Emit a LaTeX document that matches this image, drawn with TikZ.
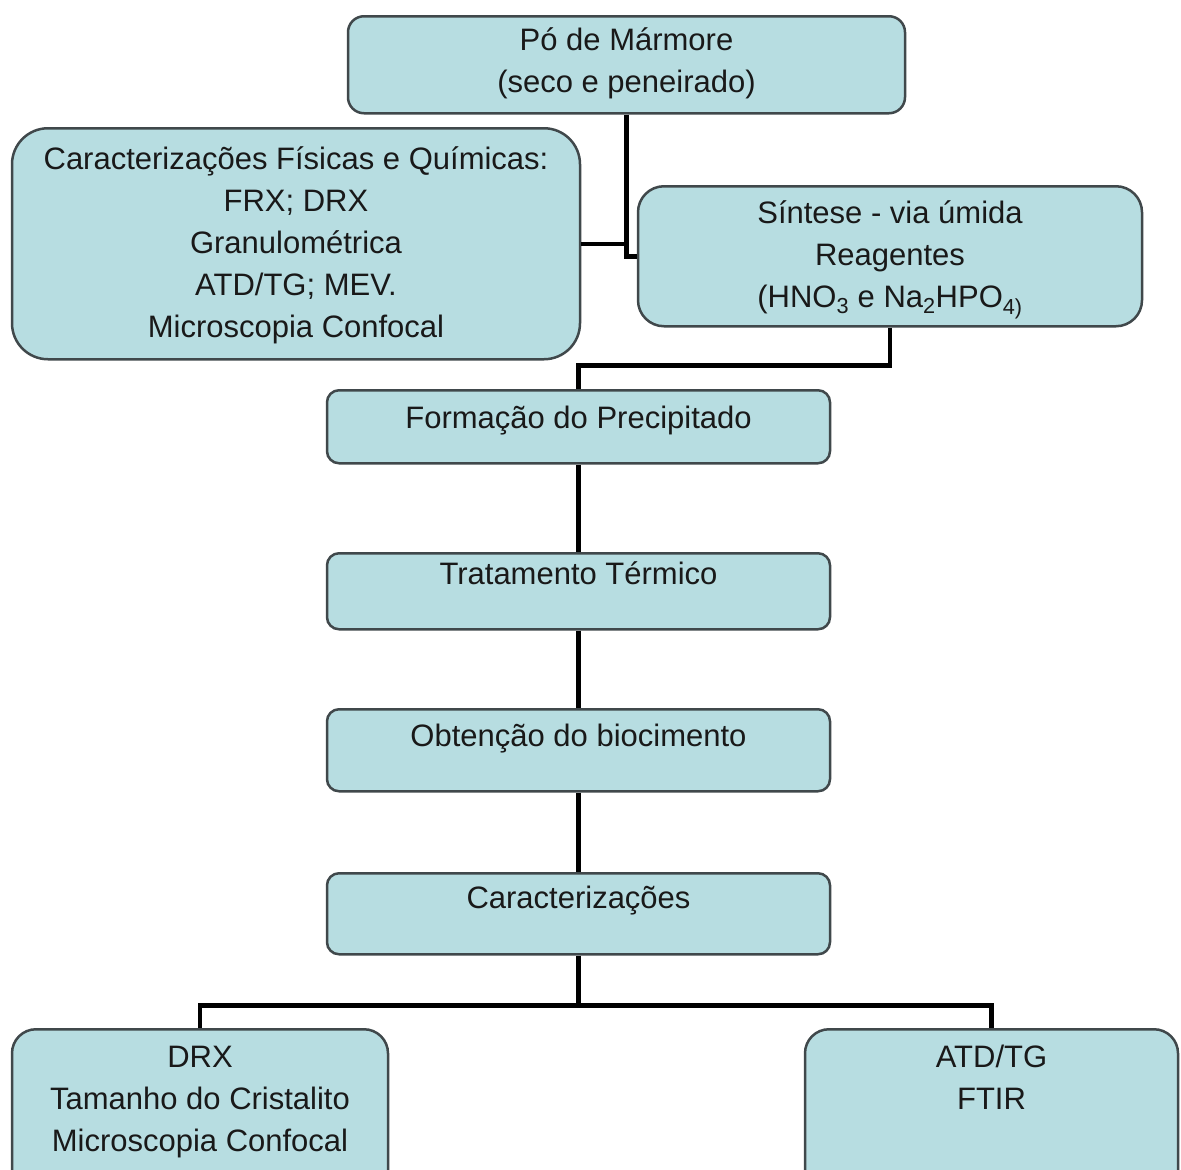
\documentclass[tikz,border=0pt]{standalone}
\usepackage{fontspec}
\setmainfont{Liberation Sans}
\usetikzlibrary{calc}

\definecolor{boxfill}{RGB}{183,221,225}
\definecolor{boxline}{RGB}{64,72,75}

\tikzset{
  box/.style={draw=boxline, line width=2.5pt, fill=boxfill, anchor=north,
    inner xsep=0pt, inner ysep=0pt, align=center, text=black!90,
    font=\fontsize{31}{42}\selectfont},
  link/.style={line width=4.5pt, black}
}

\begin{document}
\begin{tikzpicture}[x=1pt,y=-1pt]
\useasboundingbox (0,0) rectangle (1181,1170);
\clip (0,0) rectangle (1181,1170);

% upper part: raw material, characterisation and synthesis
% (text height is measured from the last line)
\node[box, rounded corners=16pt, minimum width=557pt, text height=76pt, text depth=21pt]
  (po) at (626.5,15) {Pó de Mármore\\(seco e peneirado)};
\node[box, rounded corners=36pt, minimum width=568pt, text height=209pt, text depth=22pt]
  (caract) at (296,127) {Caracterizações Físicas e Químicas:\\FRX; DRX\\Granulométrica\\ATD/TG; MEV.\\Microscopia Confocal};
\node[box, rounded corners=26pt, minimum width=504pt, text height=121pt, text depth=19pt]
  (sint) at (890,185) {Síntese - via úmida\\Reagentes\\(HNO\textsubscript{3} e Na\textsubscript{2}HPO\textsubscript{4)}};

% main chain
\node[box, rounded corners=12pt, minimum width=503pt, text height=38pt, text depth=35pt]
  (form) at (578.5,389) {Formação do Precipitado};
\node[box, rounded corners=12pt, minimum width=503pt, text height=31pt, text depth=45pt]
  (trat) at (578.5,552) {Tratamento Térmico};
\node[box, rounded corners=12pt, minimum width=503pt, text height=37pt, text depth=45pt]
  (obt) at (578.5,708) {Obtenção do biocimento};
\node[box, rounded corners=12pt, minimum width=503pt, text height=35pt, text depth=46pt]
  (carz) at (578.5,872) {Caracterizações};

% final analyses (cut by the bottom edge)
\node[box, rounded corners=24pt, minimum width=376pt, text height=122pt, text depth=66pt]
  (drx) at (200,1028) {DRX\\Tamanho do Cristalito\\Microscopia Confocal};
\node[box, rounded corners=24pt, minimum width=373pt, text height=80pt, text depth=108pt]
  (atd) at (991.5,1028) {ATD/TG\\FTIR};

% connectors
\draw[link] (po.south) |- (sint.west);
\draw[link] (caract.east) -- (caract.east -| po.south);
\draw[link] (sint.south) -- ++(0,38) -| (form.north);
\foreach \a/\b in {form/trat,trat/obt,obt/carz}
  \draw[link] (\a) -- (\b);
\draw[link] (carz.south) -- ++(0,50) coordinate (split);
\draw[link] (drx.north) |- (split) -| (atd.north);

\end{tikzpicture}
\end{document}
